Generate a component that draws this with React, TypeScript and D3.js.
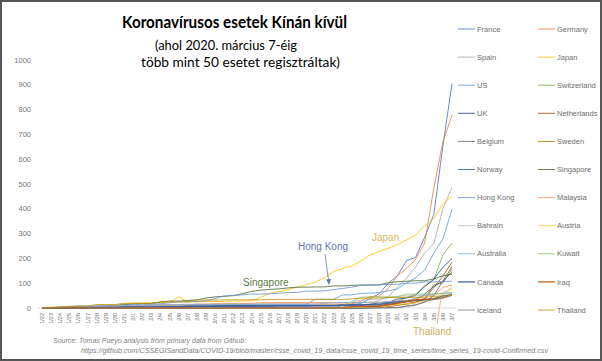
import React from "react";
import * as d3 from "d3";

const dates = [
  "1/22", "1/23", "1/24", "1/25", "1/26", "1/27", "1/28", "1/29", "1/30", "1/31",
  "2/1", "2/2", "2/3", "2/4", "2/5", "2/6", "2/7", "2/8", "2/9", "2/10",
  "2/11", "2/12", "2/13", "2/14", "2/15", "2/16", "2/17", "2/18", "2/19", "2/20",
  "2/21", "2/22", "2/23", "2/24", "2/25", "2/26", "2/27", "2/28", "2/29", "3/1",
  "3/2", "3/3", "3/4", "3/5", "3/6", "3/7",
];

const yTicks = [0, 100, 200, 300, 400, 500, 600, 700, 800, 900, 1000];

const countries = [
  "France", "Germany", "Spain", "Japan", "US", "Switzerland", "UK", "Netherlands",
  "Belgium", "Sweden", "Norway", "Singapore", "Hong Kong", "Malaysia", "Bahrain",
  "Austria", "Australia", "Kuwait", "Canada", "Iraq", "Iceland", "Thailand",
];

const colors = [
  "#4472C4", "#ED7D31", "#A5A5A5", "#FFC000", "#5B9BD5", "#70AD47", "#264478", "#9E480E",
  "#636363", "#997300", "#255E91", "#43682B", "#698ED0", "#F1975A", "#B7B7B7",
  "#FFCD33", "#7CAFDD", "#8CC168", "#335AA1", "#C55A11", "#7C7C7C", "#BF9000",
];

const france = [0, 0, 2, 3, 3, 3, 4, 5, 5, 5, 6, 6, 6, 6, 6, 6, 6, 11, 11, 11, 11, 11, 11, 11, 12, 12, 12, 12, 12, 12, 12, 12, 12, 12, 14, 18, 38, 57, 100, 130, 191, 204, 285, 377, 653, 905];
const germany = [0, 0, 0, 0, 0, 1, 4, 4, 4, 5, 8, 10, 12, 12, 12, 12, 13, 13, 14, 14, 16, 16, 16, 16, 16, 16, 16, 16, 16, 16, 16, 16, 16, 16, 17, 27, 46, 48, 79, 130, 159, 196, 262, 482, 670, 778];
const spain = [0, 0, 0, 0, 0, 0, 0, 0, 0, 0, 1, 1, 1, 1, 1, 1, 1, 1, 2, 2, 2, 2, 2, 2, 2, 2, 2, 2, 2, 2, 2, 2, 2, 2, 6, 13, 15, 32, 45, 84, 120, 165, 222, 259, 400, 487];
const japan = [2, 1, 2, 2, 4, 4, 7, 7, 11, 15, 20, 20, 20, 22, 22, 45, 25, 25, 26, 26, 26, 28, 28, 29, 43, 59, 66, 74, 84, 94, 105, 122, 147, 159, 170, 189, 214, 228, 241, 256, 274, 293, 331, 360, 420, 450];
const us = [1, 1, 2, 2, 5, 5, 5, 5, 5, 6, 8, 8, 11, 11, 11, 12, 12, 12, 12, 12, 13, 13, 15, 15, 15, 15, 15, 15, 15, 15, 35, 35, 35, 53, 53, 59, 60, 62, 70, 76, 101, 122, 153, 221, 278, 398];
const switzerland = [0, 0, 0, 0, 0, 0, 0, 0, 0, 0, 0, 0, 0, 0, 0, 0, 0, 0, 0, 0, 0, 0, 0, 0, 0, 0, 0, 0, 0, 0, 0, 0, 0, 0, 1, 1, 8, 8, 18, 27, 42, 56, 90, 114, 214, 262];
const uk = [0, 0, 0, 0, 0, 0, 0, 0, 0, 2, 2, 2, 2, 2, 2, 2, 3, 3, 3, 8, 8, 9, 9, 9, 9, 9, 9, 9, 9, 9, 9, 9, 9, 13, 13, 13, 15, 20, 23, 36, 40, 51, 86, 116, 164, 200];
const netherlands = [0, 0, 0, 0, 0, 0, 0, 0, 0, 0, 0, 0, 0, 0, 0, 0, 0, 0, 0, 0, 0, 0, 0, 0, 0, 0, 0, 0, 0, 0, 0, 0, 0, 0, 0, 0, 1, 1, 6, 10, 18, 24, 38, 82, 128, 185];
const belgium = [0, 0, 0, 0, 0, 0, 0, 0, 0, 0, 0, 0, 0, 1, 1, 1, 1, 1, 1, 1, 1, 1, 1, 1, 1, 1, 1, 1, 1, 1, 1, 1, 1, 1, 1, 1, 1, 1, 1, 2, 8, 13, 23, 50, 109, 166];
const sweden = [0, 0, 0, 0, 0, 0, 0, 0, 0, 0, 1, 1, 1, 1, 1, 1, 1, 1, 1, 1, 1, 1, 1, 1, 1, 1, 1, 1, 1, 1, 1, 1, 1, 1, 1, 2, 7, 7, 12, 14, 15, 21, 35, 94, 101, 158];
const norway = [0, 0, 0, 0, 0, 0, 0, 0, 0, 0, 0, 0, 0, 0, 0, 0, 0, 0, 0, 0, 0, 0, 0, 0, 0, 0, 0, 0, 0, 0, 0, 0, 0, 0, 0, 1, 1, 6, 15, 19, 25, 32, 56, 87, 108, 145];
const singapore = [0, 1, 3, 3, 4, 5, 7, 7, 10, 13, 16, 18, 18, 24, 28, 28, 30, 33, 40, 45, 47, 50, 58, 67, 72, 75, 77, 81, 84, 84, 85, 85, 89, 89, 91, 93, 93, 93, 102, 106, 108, 110, 110, 117, 130, 136];
const hongKong = [0, 2, 2, 5, 8, 8, 8, 10, 10, 12, 13, 15, 15, 17, 21, 24, 25, 26, 29, 38, 49, 50, 53, 56, 56, 57, 60, 62, 63, 68, 68, 69, 74, 79, 84, 91, 92, 94, 95, 96, 100, 100, 105, 105, 107, 108];
const malaysia = [0, 0, 0, 3, 4, 4, 4, 7, 8, 8, 8, 8, 8, 10, 12, 12, 12, 16, 16, 18, 18, 18, 19, 19, 22, 22, 22, 22, 22, 22, 22, 22, 22, 22, 22, 22, 23, 23, 25, 29, 29, 36, 50, 50, 83, 92];
const bahrain = [0, 0, 0, 0, 0, 0, 0, 0, 0, 0, 0, 0, 0, 0, 0, 0, 0, 0, 0, 0, 0, 0, 0, 0, 0, 0, 0, 0, 0, 0, 0, 0, 0, 1, 23, 33, 33, 36, 41, 47, 49, 49, 52, 55, 60, 83];
const austria = [0, 0, 0, 0, 0, 0, 0, 0, 0, 0, 0, 0, 0, 0, 0, 0, 0, 0, 0, 0, 0, 0, 0, 0, 0, 0, 0, 0, 0, 0, 0, 0, 0, 0, 2, 2, 3, 3, 9, 14, 18, 21, 29, 41, 55, 78];
const australia = [0, 0, 0, 0, 4, 5, 5, 6, 9, 9, 12, 12, 12, 13, 13, 14, 15, 15, 15, 15, 15, 15, 15, 15, 15, 15, 15, 15, 15, 15, 15, 19, 22, 22, 22, 22, 23, 23, 25, 27, 30, 39, 52, 55, 60, 62];
const kuwait = [0, 0, 0, 0, 0, 0, 0, 0, 0, 0, 0, 0, 0, 0, 0, 0, 0, 0, 0, 0, 0, 0, 0, 0, 0, 0, 0, 0, 0, 0, 0, 0, 0, 11, 26, 43, 45, 45, 45, 45, 56, 56, 56, 58, 58, 61];
const canada = [0, 0, 0, 0, 1, 1, 2, 2, 2, 4, 4, 4, 4, 4, 5, 5, 7, 7, 7, 7, 7, 7, 7, 7, 7, 7, 8, 8, 8, 8, 9, 9, 9, 10, 11, 11, 13, 14, 20, 24, 27, 30, 33, 37, 49, 54];
const iraq = [0, 0, 0, 0, 0, 0, 0, 0, 0, 0, 0, 0, 0, 0, 0, 0, 0, 0, 0, 0, 0, 0, 0, 0, 0, 0, 0, 0, 0, 0, 0, 0, 0, 1, 5, 6, 7, 8, 13, 19, 26, 32, 35, 35, 40, 54];
const iceland = [0, 0, 0, 0, 0, 0, 0, 0, 0, 0, 0, 0, 0, 0, 0, 0, 0, 0, 0, 0, 0, 0, 0, 0, 0, 0, 0, 0, 0, 0, 0, 0, 0, 0, 0, 0, 0, 1, 1, 1, 6, 11, 26, 34, 43, 50];
const thailand = [2, 3, 5, 7, 8, 8, 14, 14, 14, 19, 19, 19, 19, 25, 25, 25, 25, 32, 32, 32, 33, 33, 33, 33, 33, 34, 35, 35, 35, 35, 35, 35, 35, 35, 37, 40, 40, 41, 42, 42, 43, 43, 43, 47, 48, 50];

const seriesValues = [
  france, germany, spain, japan, us, switzerland, uk, netherlands, belgium, sweden, norway,
  singapore, hongKong, malaysia, bahrain, austria, australia, kuwait, canada, iraq, iceland, thailand,
];

const W = 602;
const H = 361;
const axisFont = "'Helvetica Neue', 'Liberation Sans', Arial, sans-serif";
const titleFont = "Lato, 'Open Sans', sans-serif";

export default function App() {
  const x = d3.scalePoint<string>().domain(dates).range([42, 452]);
  const y = d3.scaleLinear().domain([0, 1000]).range([308, 60]);

  const line = d3.line<number>()
    .x((d, i) => x(dates[i]) as number)
    .y(d => y(d));

  const thick = (name: string) => name === "Canada" || name === "Iraq";

  return (
    <svg width={W} height={H} style={{ position: "absolute", left: 0, top: 0, background: "#fff" }}>
      <rect x={1} y={1} width={W - 2} height={H - 2} fill="#fff" stroke="#555" strokeWidth={2} />

      {/* title */}
      <text x={122} y={28} fontFamily={titleFont} fontWeight={700} fontSize={17} fill="#000"
        textLength={225} lengthAdjust="spacingAndGlyphs">Koronavírusos esetek Kínán kívül</text>
      <text x={155} y={50} fontFamily={titleFont} fontSize={13} fill="#000"
        textLength={142} lengthAdjust="spacingAndGlyphs">(ahol 2020. március 7-éig</text>
      <text x={141} y={67} fontFamily={titleFont} fontSize={13} fill="#000"
        textLength={199} lengthAdjust="spacingAndGlyphs">több mint 50 esetet regisztráltak)</text>

      {/* y axis labels */}
      {yTicks.map(t => (
        <text key={t} x={31} y={y(t)} dy="0.35em" textAnchor="end" fontFamily={axisFont}
          fontSize={7.5} fill="#757575">{t}</text>
      ))}

      {/* x axis */}
      <line x1={38} x2={456} y1={y(0)} y2={y(0)} stroke="#d9d9d9" strokeWidth={1} />
      {dates.map(d => (
        <text key={d} transform={`translate(${(x(d) as number) + 2},313) rotate(-90)`}
          textAnchor="end" fontFamily={axisFont} fontSize={5.5} fill="#6b6b6b">{d}</text>
      ))}

      {/* series */}
      {seriesValues.map((vals, i) => (
        <path key={countries[i]} d={line(vals) as string} fill="none" stroke={colors[i]}
          strokeWidth={thick(countries[i]) ? 1.4 : 0.9} strokeLinejoin="round" strokeOpacity={0.9} />
      ))}

      {/* annotations */}
      <text x={372} y={241} fontFamily={axisFont} fontSize={10} fill="#DDB55C">Japan</text>
      <text x={298} y={250} fontFamily={axisFont} fontSize={10} fill="#6274B3">Hong Kong</text>
      <line x1={325} y1={254} x2={328.5} y2={280} stroke="#6274B3" strokeWidth={0.8} />
      <path d="M326.2,279.5 L331,279 L329,285 Z" fill="#6274B3" />
      <text x={243} y={286} fontFamily={axisFont} fontSize={10} fill="#5B7A45">Singapore</text>
      <line x1={441} y1={298} x2={437} y2={324} stroke="#D2AE5E" strokeWidth={0.8} />
      <text x={413} y={335} fontFamily={axisFont} fontSize={10} fill="#D2AE5E">Thailand</text>

      {/* legend */}
      {countries.map((c, i) => {
        const col = i % 2;
        const row = Math.floor(i / 2);
        const lx = col === 0 ? 458 : 538;
        const ly = 29 + row * 28.1;
        return (
          <g key={c}>
            <line x1={lx} x2={lx + 17} y1={ly} y2={ly} stroke={colors[i]}
              strokeWidth={thick(c) ? 1.6 : 0.9} strokeOpacity={thick(c) ? 0.75 : 0.9} />
            <text x={lx + 19} y={ly} dy="0.35em" fontFamily={axisFont} fontSize={7.5}
              fill="#6e6e6e">{c}</text>
          </g>
        );
      })}

      {/* source */}
      <text x={53} y={343} fontFamily={axisFont} fontStyle="italic" fontSize={7} fill="#808080">
        Source: Tomas Pueyo analysis from primary data from Github:
      </text>
      <text x={81} y={353} fontFamily={axisFont} fontStyle="italic" fontSize={7} fill="#808080"
        textLength={467} lengthAdjust="spacingAndGlyphs">
        https://github.com/CSSEGISandData/COVID-19/blob/master/csse_covid_19_data/csse_covid_19_time_series/time_series_19-covid-Confirmed.csv
      </text>
    </svg>
  );
}
